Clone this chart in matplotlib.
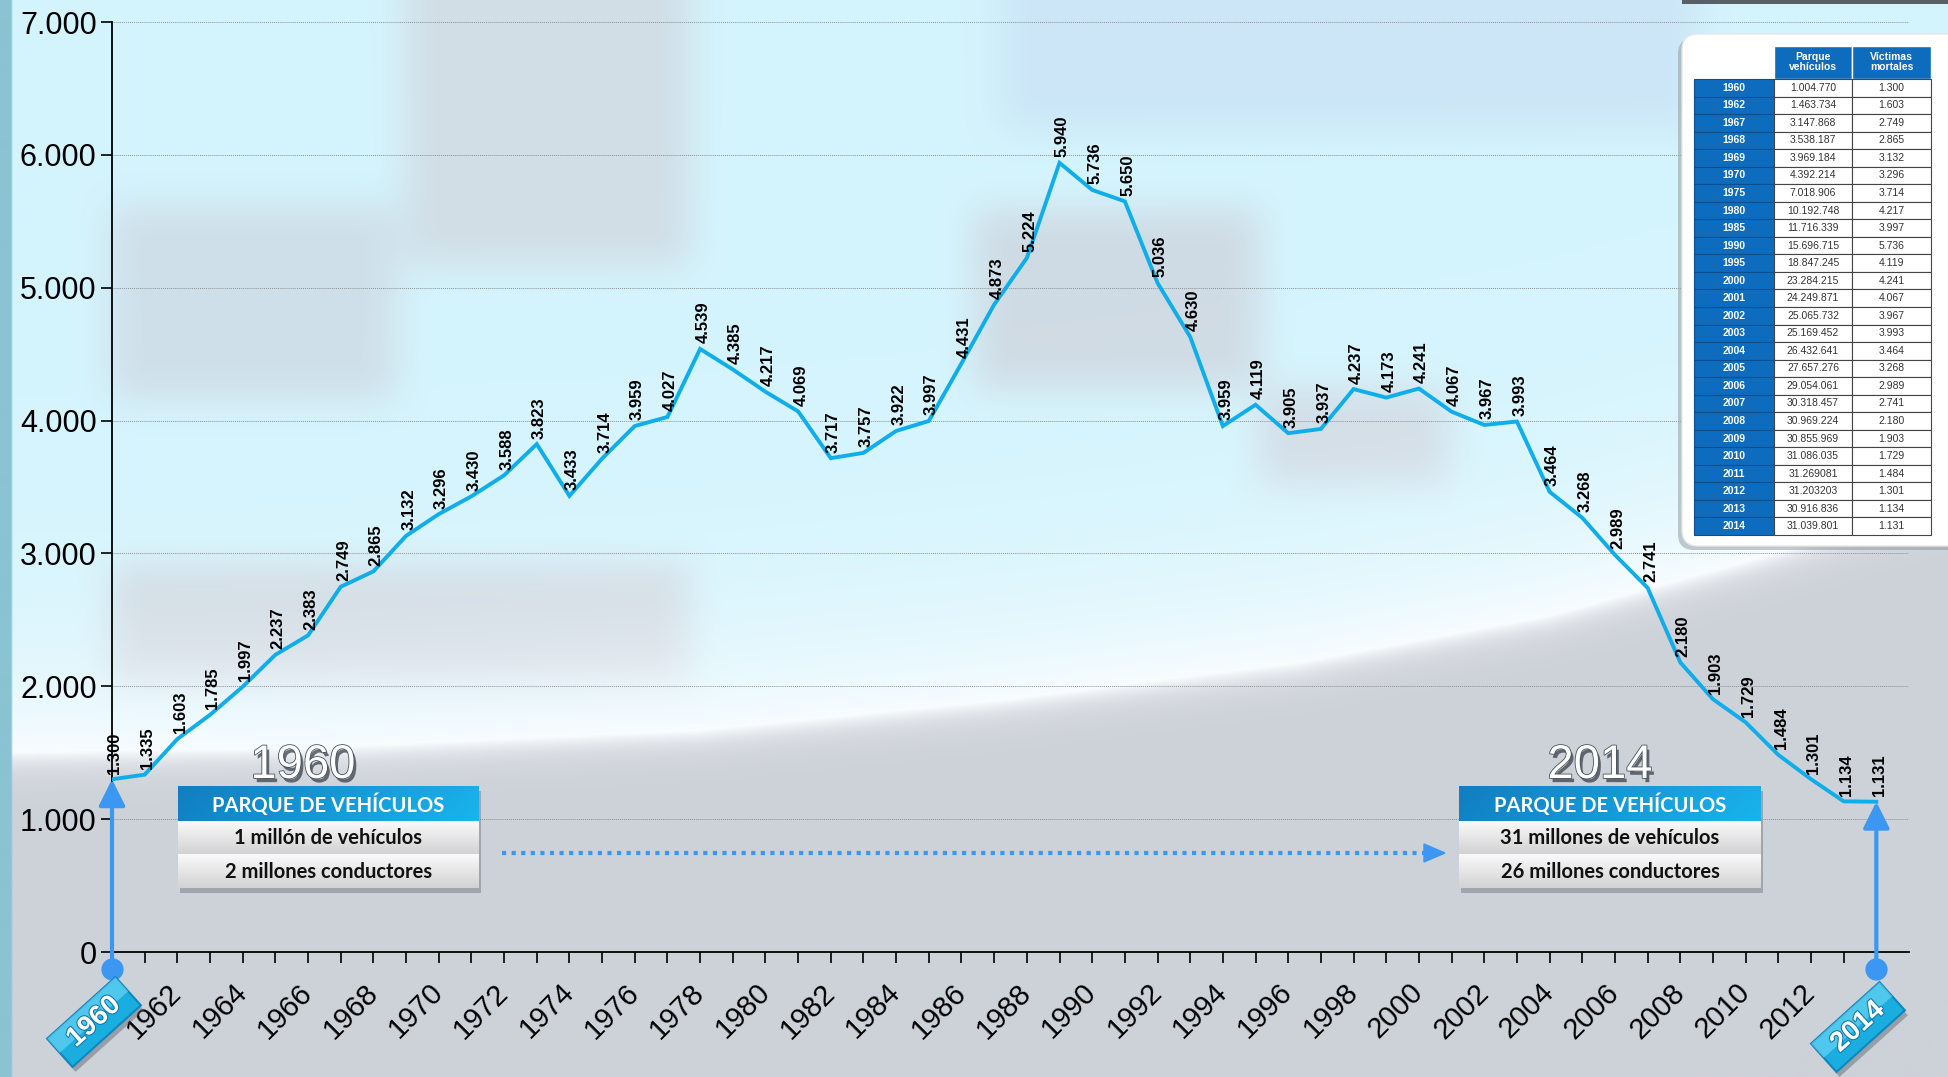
import numpy as np
import matplotlib.pyplot as plt
import matplotlib.patheffects as pe
from matplotlib.patches import Rectangle, FancyBboxPatch, Polygon

# ---- data ----------------------------------------------------------------
years = list(range(1960, 2015))
victimas = [1300, 1335, 1603, 1785, 1997, 2237, 2383, 2749, 2865, 3132,
            3296, 3430, 3588, 3823, 3433, 3714, 3959, 4027, 4539, 4385,
            4217, 4069, 3717, 3757, 3922, 3997, 4431, 4873, 5224, 5940,
            5736, 5650, 5036, 4630, 3959, 4119, 3905, 3937, 4237, 4173,
            4241, 4067, 3967, 3993, 3464, 3268, 2989, 2741, 2180, 1903,
            1729, 1484, 1301, 1134, 1131]
xtick_years = list(range(1962, 2013, 2))
yticks = [0, 1000, 2000, 3000, 4000, 5000, 6000, 7000]

tabla_anios = ["1960", "1962", "1967", "1968", "1969", "1970", "1975", "1980",
               "1985", "1990", "1995", "2000", "2001", "2002", "2003", "2004",
               "2005", "2006", "2007", "2008", "2009", "2010", "2011", "2012",
               "2013", "2014"]
tabla_parque = ["1.004.770", "1.463.734", "3.147.868", "3.538.187", "3.969.184",
                "4.392.214", "7.018.906", "10.192.748", "11.716.339", "15.696.715",
                "18.847.245", "23.284.215", "24.249.871", "25.065.732", "25.169.452",
                "26.432.641", "27.657.276", "29.054.061", "30.318.457", "30.969.224",
                "30.855.969", "31.086.035", "31.269081", "31.203203", "30.916.836",
                "31.039.801"]
tabla_victimas = ["1.300", "1.603", "2.749", "2.865", "3.132", "3.296", "3.714",
                  "4.217", "3.997", "5.736", "4.119", "4.241", "4.067", "3.967",
                  "3.993", "3.464", "3.268", "2.989", "2.741", "2.180", "1.903",
                  "1.729", "1.484", "1.301", "1.134", "1.131"]
tabla_cols = ["Parque\nvehículos", "Víctimas\nmortales"]

box_titulo = "PARQUE DE VEHÍCULOS"
box_1960 = ["1 millón de vehículos", "2 millones conductores"]
box_2014 = ["31 millones de vehículos", "26 millones conductores"]

LINE = "#0FAEEA"
ARROW = "#3C97F2"

W, H = 1949, 1077
plt.rcParams["font.family"] = ["Liberation Sans", "DejaVu Sans"]


def fmt(v):
    return f"{v:,}".replace(",", ".")


def box_blur(a, r):
    for axis in (0, 1):
        p = np.concatenate([np.repeat(a.take([0], axis), r + 1, axis), a,
                            np.repeat(a.take([-1], axis), r, axis)], axis)
        c = np.cumsum(p, axis=axis)
        n = a.shape[axis]
        a = (c.take(range(2 * r + 1, 2 * r + 1 + n), axis) - c.take(range(0, n), axis)) / (2 * r + 1)
    return a


def background():
    s = 2
    h, w = H // s + 1, W // s + 1
    yy, xx = np.mgrid[0:h, 0:w].astype(float) * s
    img = np.zeros((h, w, 3))
    img[:] = (212, 244, 253)
    blocks = [
        (1000, 1700, 0, 130, (204, 230, 247)),
        (405, 690, 0, 265, (209, 222, 230)),
        (110, 395, 205, 400, (207, 223, 233)),
        (110, 690, 565, 690, (205, 216, 225)),
        (975, 1260, 210, 390, (207, 219, 228)),
        (1260, 1450, 390, 485, (208, 220, 230)),
    ]
    for x0, x1, y0, y1, col in blocks:
        m = (xx >= x0) & (xx < x1) & (yy >= y0) & (yy < y1)
        img[m] = col
    img = box_blur(box_blur(img, 10), 10)
    # bright arc and grey floor
    bx = [0, 300, 700, 1000, 1300, 1550, 1750, 1949]
    by = [752, 748, 730, 700, 662, 615, 560, 500]
    yb = np.interp(xx, bx, by)
    d = yy - yb
    white = np.array([250, 253, 255.0])
    floor = np.array([205, 209, 216.0])
    up = np.clip(np.exp(d / 100.0), 0, 1)[..., None] * 0.94
    img = img * (1 - up) + white * up
    t = np.clip(1 - np.exp(-np.clip(d, 0, None) / 14.0), 0, 1)[..., None]
    below = (d >= 0)[..., None]
    img = np.where(below, white * (1 - t) + floor * t, img)
    img[xx < 12] = (138, 195, 209)
    return img / 255.0


fig = plt.figure(figsize=(W / 100, H / 100), dpi=100)
bg = fig.add_axes([0, 0, 1, 1], zorder=-2)
bg.imshow(background(), extent=(0, 1, 0, 1), aspect="auto", interpolation="bilinear")
bg.axis("off")

# ---- main chart ----------------------------------------------------------
ax = fig.add_axes([112 / W, 1 - 952 / H, (1909 - 112) / W, (952 - 22) / H])
ax.set_facecolor("none")
ax.plot(years, victimas, color=LINE, lw=2.8, zorder=3, solid_joinstyle="miter")
for x, v in zip(years, victimas):
    ax.annotate(fmt(v), (x, v), xytext=(2, 4), textcoords="offset points",
                rotation=90, ha="center", va="bottom", fontsize=12,
                fontweight="bold", color="black", zorder=4)

ax.set_xlim(1960, 2015)
ax.set_ylim(0, 7000)
ax.set_yticks(yticks)
ax.set_yticklabels([fmt(v) for v in yticks], fontsize=22)
ax.set_xticks(years)
ax.set_xticklabels([str(y) if y in xtick_years else "" for y in years],
                   fontsize=21, rotation=45, ha="right", va="center",
                   rotation_mode="anchor")
ax.tick_params(axis="x", length=8, width=1.2, direction="out", pad=18)
ax.tick_params(axis="y", length=8, width=1.2, direction="out", pad=3)
ax.grid(axis="y", color="#8c9196", lw=0.7, linestyle=(0, (1, 1)))
ax.set_axisbelow(True)
for side in ("top", "right"):
    ax.spines[side].set_visible(False)
for side in ("left", "bottom"):
    ax.spines[side].set_linewidth(1.3)

# arrows from the axis to the first and last point
for x, v in ((years[0], victimas[0]), (years[-1], victimas[-1])):
    ax.annotate("", xy=(x, v), xytext=(x, -125), annotation_clip=False,
                arrowprops=dict(arrowstyle="-|>,head_width=0.4,head_length=0.8",
                                lw=3, color=ARROW, shrinkA=0, shrinkB=0,
                                mutation_scale=20), zorder=5)
    ax.plot([x], [-125], "o", ms=15, color=ARROW, clip_on=False, zorder=5)

# ---- overlay in pixel coordinates ------------------------------------------
ov = fig.add_axes([0, 0, 1, 1], zorder=5)
ov.axis("off")


def grad(x0, y0, x1, y1, top, bot, left=None, right=None, z=6):
    n = 64
    tv = np.linspace(0, 1, n)[:, None, None]
    top, bot = np.array(top) / 255, np.array(bot) / 255
    arr = top * (1 - tv) + bot * tv
    arr = np.repeat(arr, 2, axis=1)
    if left is not None:
        th = np.linspace(0, 1, n)[None, :, None]
        l, r = np.array(left) / 255, np.array(right) / 255
        hz = l * (1 - th) + r * th
        arr = np.repeat(arr[:, :1], n, axis=1) * 0.35 + hz * 0.65
    ov.imshow(arr, extent=(x0, x1, y1, y0), origin="upper", aspect="auto",
              interpolation="bilinear", zorder=z)


def info_box(x0, x1, year, ycx, lines):
    y0, y1, y2, y3 = 786, 821, 854, 888
    ov.add_patch(Rectangle((x0 + 2, y0 + 5), x1 - x0, y3 - y0, color="#6c737c",
                           alpha=0.45, zorder=5, lw=0))
    grad(x0, y0, x1, y1, (40, 150, 210), (30, 170, 235),
         left=(8, 112, 180), right=(20, 185, 240))
    grad(x0, y1, x1, y2, (250, 250, 250), (210, 210, 212))
    grad(x0, y2, x1, y3, (250, 250, 250), (210, 210, 212))
    cx = (x0 + x1) / 2
    ov.text(cx, (y0 + y1) / 2 + 1, box_titulo, color="white", fontsize=14.5,
            fontweight="bold", family=["Lato", "DejaVu Sans"],
            ha="center", va="center", zorder=8)
    for (ya, yb), txt in zip(((y1, y2), (y2, y3)), lines):
        ov.text(cx, (ya + yb) / 2 + 1, txt, color="#111111", fontsize=14.5,
                fontweight="bold", family=["Lato", "DejaVu Sans"],
                ha="center", va="center", zorder=8)
    ov.text(ycx, 766, year, color="white", fontsize=34, ha="center", va="center",
            zorder=8,
            path_effects=[pe.SimplePatchShadow(offset=(2, -3), shadow_rgbFace="#2f3841", alpha=0.7),
                          pe.Stroke(linewidth=1.2, foreground="#48535d"), pe.Normal()])


info_box(178, 479, "1960", 303, box_1960)
info_box(1459, 1761, "2014", 1600, box_2014)

# dotted connector
ov.plot([502, 1425], [853, 853], color=ARROW, lw=3, linestyle=(0, (1, 1.3)), zorder=6)
ov.add_patch(Polygon([(1424, 844), (1445, 853), (1424, 862)], closed=True,
                     color=ARROW, zorder=6))


def diamond(cx, cy, label, ang=42, half_l=46, half_w=19):
    a = np.deg2rad(ang)
    u = np.array([np.cos(a), -np.sin(a)])
    v = np.array([np.sin(a), np.cos(a)])
    c = np.array([cx, cy])
    pts = [c - u * half_l - v * half_w, c + u * half_l - v * half_w,
           c + u * half_l + v * half_w, c - u * half_l + v * half_w]
    sh = [p + np.array([3, 5]) for p in pts]
    ov.add_patch(Polygon(sh, closed=True, color="#56606a", alpha=0.45, zorder=6, lw=0))
    ov.add_patch(Polygon(pts, closed=True, facecolor="#1aaee0", edgecolor="#0f86bd",
                         lw=1.5, zorder=7))
    top = [pts[0], pts[1], (pts[1] + pts[2]) / 2, (pts[0] + pts[3]) / 2]
    ov.add_patch(Polygon(top, closed=True, facecolor="#7edcf7", alpha=0.55, lw=0, zorder=7))
    ov.text(cx, cy, label, rotation=ang, color="white", fontsize=20, fontweight="bold",
            ha="center", va="center", zorder=8,
            path_effects=[pe.withStroke(linewidth=1.5, foreground="#0d78a8")])


diamond(94, 1022, "1960")
diamond(1858, 1027, "2014")

# data table, top right
ov.add_patch(Rectangle((1682, 0), 270, 4, color="#5a5f66", zorder=5, lw=0))
ov.add_patch(FancyBboxPatch((1678, 38), 290, 512, boxstyle="round,pad=0,rounding_size=16",
                            facecolor="#8f959c", alpha=0.5, lw=0, zorder=5))
ov.add_patch(FancyBboxPatch((1682, 34), 290, 512, boxstyle="round,pad=0,rounding_size=16",
                            facecolor="white", edgecolor="#e4e7ea", lw=1, zorder=6))
TB = "#0e6cbf"
xc = [1694, 1774, 1852, 1931]
hy0, hy1 = 46, 79
rh = (535 - hy1) / len(tabla_anios)
for j, name in enumerate(tabla_cols):
    ov.add_patch(Rectangle((xc[j + 1], hy0), xc[j + 2] - xc[j + 1], hy1 - hy0,
                           facecolor=TB, edgecolor="white", lw=1, zorder=7))
    ov.text((xc[j + 1] + xc[j + 2]) / 2, (hy0 + hy1) / 2, name, color="white",
            fontsize=7.5, fontweight="bold", ha="center", va="center",
            linespacing=1.0, zorder=8)
for i, (a, p, v) in enumerate(zip(tabla_anios, tabla_parque, tabla_victimas)):
    y = hy1 + i * rh
    ov.add_patch(Rectangle((xc[0], y), xc[1] - xc[0], rh, facecolor=TB,
                           edgecolor="#0a4f8c", lw=0.8, zorder=7))
    ov.add_patch(Rectangle((xc[1], y), xc[2] - xc[1], rh, facecolor="white",
                           edgecolor="#444444", lw=0.8, zorder=7))
    ov.add_patch(Rectangle((xc[2], y), xc[3] - xc[2], rh, facecolor="white",
                           edgecolor="#444444", lw=0.8, zorder=7))
    ov.text((xc[0] + xc[1]) / 2, y + rh / 2, a, color="white", fontsize=7.5,
            fontweight="bold", ha="center", va="center", zorder=8)
    ov.text((xc[1] + xc[2]) / 2, y + rh / 2, p, color="#333333", fontsize=7.5,
            ha="center", va="center", zorder=8)
    ov.text((xc[2] + xc[3]) / 2, y + rh / 2, v, color="#333333", fontsize=7.5,
            ha="center", va="center", zorder=8)

ov.set_xlim(0, W)
ov.set_ylim(H, 0)

fig.savefig("out.png", dpi=100)
